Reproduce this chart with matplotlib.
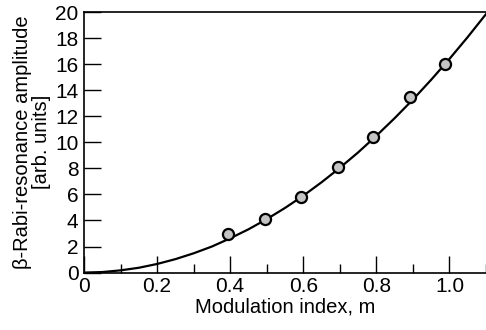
import numpy as np
import matplotlib
matplotlib.use("Agg")
import matplotlib.pyplot as plt
from matplotlib.ticker import MultipleLocator, FixedLocator

# measured points
m_data = [0.395, 0.494, 0.594, 0.694, 0.791, 0.892, 0.987]
amp_data = [2.93, 4.10, 5.77, 8.07, 10.42, 13.45, 15.98]

# curve
m_curve = [0.0, 0.05, 0.1, 0.15, 0.2, 0.25, 0.3, 0.35, 0.4, 0.45, 0.5, 0.55,
           0.6, 0.65, 0.7, 0.75, 0.8, 0.85, 0.9, 0.95, 1.0, 1.05, 1.1]
amp_curve = [0.0, 0.04, 0.17, 0.37, 0.66, 1.03, 1.48, 2.0, 2.63, 3.32, 4.1, 4.96,
             5.9, 6.93, 8.04, 9.22, 10.5, 11.85, 13.28, 14.8, 16.4, 18.08, 19.84]

x_ticks = [0, 0.2, 0.4, 0.6, 0.8, 1.0]
x_labels = ['0', '0.2', '0.4', '0.6', '0.8', '1.0']

plt.rcParams['font.family'] = ['Liberation Sans', 'DejaVu Sans']

fig = plt.figure(figsize=(4.86, 3.3), dpi=100)
ax = fig.add_axes([0.1728, 0.174, 0.8272, 0.7896])

ax.plot(m_curve, amp_curve, color='black', linewidth=1.6)
ax.plot(m_data, amp_data, ls='None', marker='o', markersize=8,
        markerfacecolor='#c4c4c4', markeredgecolor='black', markeredgewidth=1.6)

ax.set_xlim(0, 1.1)
ax.set_ylim(0, 20)

ax.xaxis.set_major_locator(FixedLocator(x_ticks))
ax.set_xticklabels(x_labels)
ax.xaxis.set_minor_locator(MultipleLocator(0.1))
ax.yaxis.set_major_locator(MultipleLocator(2))

ax.tick_params(axis='both', which='major', direction='in', length=12, width=1.0,
               labelsize=15)
ax.tick_params(axis='x', which='major', pad=3)
ax.tick_params(axis='y', which='major', pad=4)
ax.tick_params(axis='x', which='minor', direction='in', length=6.5, width=1.0)
ax.tick_params(top=False, right=False)

ax.spines['right'].set_visible(False)
for s in ['left', 'top', 'bottom']:
    ax.spines[s].set_linewidth(1.2)

ax.set_xlabel('Modulation index, m', fontsize=14.5, labelpad=1)
ax.set_ylabel('\u03b2-Rabi-resonance amplitude\n[arb. units]', fontsize=14.5,
              labelpad=3, linespacing=1.0)

fig.savefig('out.png', dpi=100)
